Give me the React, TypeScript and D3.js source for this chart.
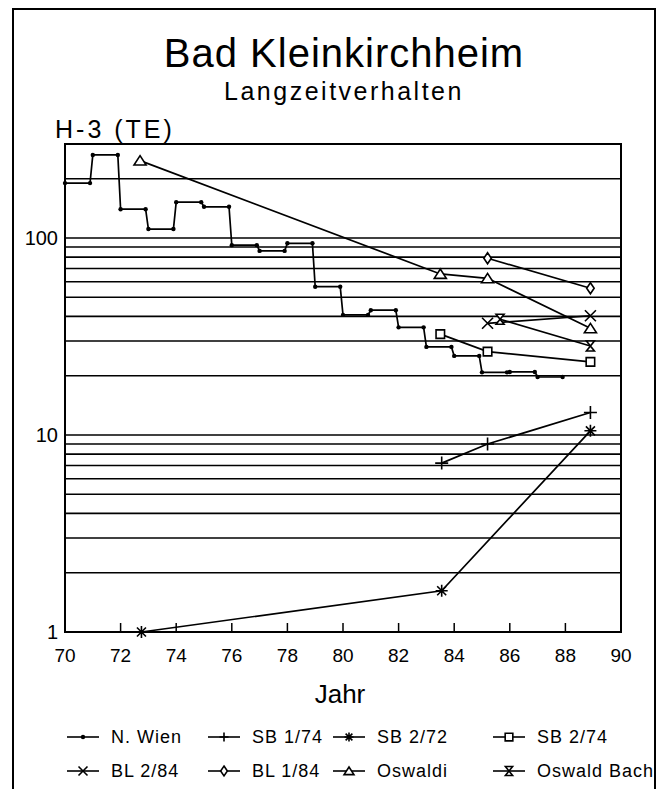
import React from "react";
import * as d3 from "d3";

// ---------- data ----------
const xTicks = [70, 72, 74, 76, 78, 80, 82, 84, 86, 88, 90];
const yLabels = [1, 10, 100];
const gridValues = [2, 3, 4, 5, 6, 7, 8, 9, 10, 20, 30, 40, 50, 60, 70, 80, 90, 100, 200];

// N. Wien: yearly step values (start of year)
const nWienYears = [70, 71, 72, 73, 74, 75, 76, 77, 78, 79, 80, 81, 82, 83, 84, 85, 86, 87];
const nWienValues = [190, 264, 140, 111, 152, 144, 92, 86, 94, 56.6, 40.7, 43, 35.2, 28, 25.2, 20.8, 20.9, 19.7];

const sb174Years = [83.55, 85.2, 88.9];
const sb174Values = [7.2, 9.0, 13.0];

const sb272Years = [72.75, 83.55, 88.9];
const sb272Values = [1.0, 1.62, 10.5];

const sb274Years = [83.5, 85.2, 88.9];
const sb274Values = [32.5, 26.5, 23.5];

const bl284Years = [85.2, 88.9];
const bl284Values = [36.9, 40.3];

const bl184Years = [85.2, 88.9];
const bl184Values = [78.9, 55.6];

const oswaldiYears = [72.7, 83.5, 85.2, 88.9];
const oswaldiValues = [247, 65.7, 62.4, 34.8];

const oswaldBachYears = [85.65, 88.9];
const oswaldBachValues = [38.7, 28.3];

const legendNames = ["N. Wien", "SB 1/74", "SB 2/72", "SB 2/74", "BL 2/84", "BL 1/84", "Oswaldi", "Oswald Bach"];
const legendShapes = ["dot", "plus", "asterisk", "square", "x", "diamond", "triangle", "hourglass"];

// ---------- layout ----------
const W = 663;
const H = 789;
const left = 65;
const right = 621;
const top = 144;
const bottom = 632;
const FONT = "'Liberation Sans', Arial, sans-serif";

const x = d3.scaleLinear().domain([70, 90]).range([left, right]);
const y = d3.scaleLog().domain([1, 300]).range([bottom, top]);

function markerPath(shape: string, s: number): string {
  const h = s / 2;
  switch (shape) {
    case "triangle":
      return `M0,${-h * 0.9}L${h * 1.1},${h * 0.8}L${-h * 1.1},${h * 0.8}Z`;
    case "square":
      return `M${-h * 0.85},${-h * 0.85}H${h * 0.85}V${h * 0.85}H${-h * 0.85}Z`;
    case "diamond":
      return `M0,${-h * 1.1}L${h * 0.75},0L0,${h * 1.1}L${-h * 0.75},0Z`;
    case "x":
      return `M${-h},${-h}L${h},${h}M${h},${-h}L${-h},${h}`;
    case "plus":
      return `M${-h},0H${h}M0,${-h}V${h}`;
    case "asterisk":
      return `M${-h},0H${h}M0,${-h}V${h}M${-h * 0.75},${-h * 0.75}L${h * 0.75},${h * 0.75}M${h * 0.75},${-h * 0.75}L${-h * 0.75},${h * 0.75}`;
    case "hourglass":
      return `M${-h * 0.8},${-h}H${h * 0.8}L${-h * 0.8},${h}H${h * 0.8}Z`;
    default:
      return "";
  }
}

const closedShapes = new Set(["triangle", "square", "diamond", "hourglass"]);

function Marker({ cx, cy, shape, size }: { cx: number; cy: number; shape: string; size: number }) {
  if (shape === "dot") {
    return <circle cx={cx} cy={cy} r={2.2} fill="#000" />;
  }
  return (
    <path
      d={markerPath(shape, size)}
      transform={`translate(${cx},${cy})`}
      fill={closedShapes.has(shape) ? "#fff" : "none"}
      stroke="#000"
      strokeWidth={1.6}
    />
  );
}

const line = d3
  .line<[number, number]>()
  .x((d) => x(d[0]))
  .y((d) => y(d[1]));

function zip(a: number[], b: number[]): [number, number][] {
  return a.map((v, i) => [v, b[i]]);
}

export default function App() {
  const nWienPts: [number, number][] = [];
  nWienYears.forEach((yr, i) => {
    nWienPts.push([yr, nWienValues[i]]);
    nWienPts.push([yr + 0.9, nWienValues[i]]);
  });

  const series = [
    { yrs: sb174Years, vals: sb174Values, shape: "plus", size: 13 },
    { yrs: sb272Years, vals: sb272Values, shape: "asterisk", size: 12 },
    { yrs: sb274Years, vals: sb274Values, shape: "square", size: 10 },
    { yrs: bl284Years, vals: bl284Values, shape: "x", size: 11 },
    { yrs: bl184Years, vals: bl184Values, shape: "diamond", size: 10 },
    { yrs: oswaldiYears, vals: oswaldiValues, shape: "triangle", size: 11 },
    { yrs: oswaldBachYears, vals: oswaldBachValues, shape: "hourglass", size: 10 },
  ];

  const legendCols = [67, 208, 333, 493];
  const legendTextOff = 44;
  const legendRows = [743, 777];

  return (
    <svg
      width={W}
      height={H}
      style={{ position: "absolute", left: 0, top: 0, background: "#fff" }}
      fontFamily={FONT}
    >
      <rect x={0} y={0} width={W} height={H} fill="#fff" />
      {/* outer frame */}
      <rect x={13} y={9} width={642} height={820} fill="none" stroke="#000" strokeWidth={2} />

      {/* titles */}
      <text x={344} y={67} textAnchor="middle" fontSize={40} letterSpacing={1}>
        Bad Kleinkirchheim
      </text>
      <text x={344} y={100} textAnchor="middle" fontSize={25} letterSpacing={2.5}>
        Langzeitverhalten
      </text>
      <text x={55} y={138} fontSize={25} letterSpacing={3}>
        H-3 (TE)
      </text>

      {/* gridlines */}
      {gridValues.map((v) => (
        <line key={v} x1={left} x2={right} y1={y(v)} y2={y(v)} stroke="#000" strokeWidth={1.6} />
      ))}

      {/* plot frame */}
      <rect x={left} y={top} width={right - left} height={bottom - top} fill="none" stroke="#000" strokeWidth={2} />

      {/* x ticks */}
      {xTicks.map((t) => (
        <g key={t}>
          <line x1={x(t)} x2={x(t)} y1={bottom} y2={bottom - 9} stroke="#000" strokeWidth={1.5} />
          <text x={x(t)} y={662} textAnchor="middle" fontSize={19}>
            {t}
          </text>
        </g>
      ))}

      {/* y labels */}
      {yLabels.map((v) => (
        <text key={v} x={58} y={y(v) + 7} textAnchor="end" fontSize={20}>
          {v}
        </text>
      ))}

      <text x={340} y={703} textAnchor="middle" fontSize={26}>
        Jahr
      </text>

      {/* N. Wien */}
      <path d={line(nWienPts) || ""} fill="none" stroke="#000" strokeWidth={1.7} />
      {nWienPts.map((p, i) => (
        <circle key={i} cx={x(p[0])} cy={y(p[1])} r={2.2} fill="#000" />
      ))}

      {/* other series */}
      {series.map((s, i) => (
        <path key={i} d={line(zip(s.yrs, s.vals)) || ""} fill="none" stroke="#000" strokeWidth={1.7} />
      ))}
      {series.map((s, i) => (
        <g key={"m" + i}>
          {s.yrs.map((yr, j) => (
            <Marker key={j} cx={x(yr)} cy={y(s.vals[j])} shape={s.shape} size={s.size} />
          ))}
        </g>
      ))}

      {/* legend */}
      {legendNames.map((name, i) => {
        const col = i % 4;
        const row = Math.floor(i / 4);
        const sx = legendCols[col];
        const cy = legendRows[row] - 6;
        return (
          <g key={name}>
            <line x1={sx} x2={sx + 32} y1={cy} y2={cy} stroke="#000" strokeWidth={1.6} />
            <Marker cx={sx + 16} cy={cy} shape={legendShapes[i]} size={9} />
            <text x={sx + legendTextOff} y={legendRows[row]} fontSize={18} letterSpacing={1}>
              {name}
            </text>
          </g>
        );
      })}
    </svg>
  );
}
